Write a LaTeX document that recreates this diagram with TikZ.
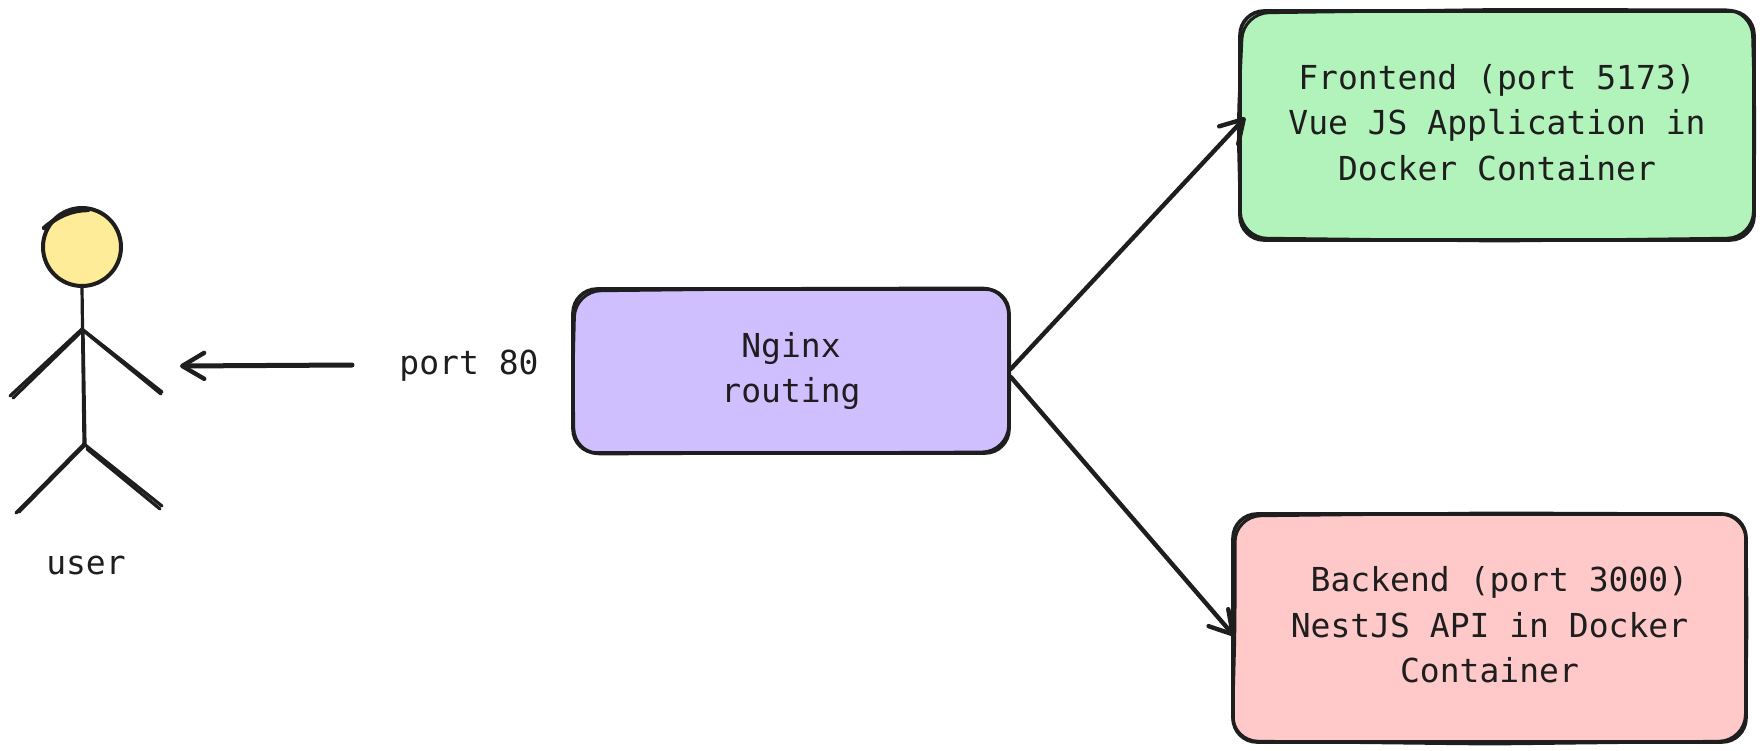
\documentclass[tikz,border=0pt]{standalone}
\usepackage{fontspec}
\setmonofont{DejaVu Sans Mono}
\usetikzlibrary{arrows.meta}
\definecolor{ink}{HTML}{1E1E1E}
\definecolor{fgreen}{HTML}{B2F2BB}
\definecolor{bred}{HTML}{FFC9C9}
\definecolor{npurple}{HTML}{D0BFFF}
\definecolor{uyellow}{HTML}{FFEC99}
\tikzset{
  x=1pt,y=-1pt,
  boxnode/.style={draw=ink,line width=3.6pt,rounded corners=24pt,inner sep=0pt,
    text=ink,font=\ttfamily\fontsize{33}{45.5}\selectfont},
  label/.style={text=ink,inner sep=0pt,font=\ttfamily\fontsize{33}{39}\selectfont},
  ink line/.style={draw=ink,line width=3.2pt,line cap=round},
  overstroke/.style={draw=ink,line width=3pt,line cap=round,rounded corners=26pt},
  connector/.style={draw=ink,line width=4.4pt,line cap=round,line join=round,
    -{Straight Barb[length=22pt,width=26pt,line width=4.4pt,round]}},
}
\begin{document}
\begin{tikzpicture}
\useasboundingbox (0,0) rectangle (1763,751);
\fill[white] (0,0) rectangle (1763,751);
% boxes
\node[boxnode,fill=fgreen,minimum width=514pt,minimum height=229pt] (frontend) at (1497,125.5)
  {\begin{tabular}{@{}c@{}}Frontend (port 5173)\\Vue JS Application in\\Docker Container\end{tabular}};
\node[boxnode,fill=bred,minimum width=513pt,minimum height=228pt] (backend) at (1489.5,628)
  {\begin{tabular}{@{}c@{}}~Backend (port 3000)\\NestJS API in Docker\\Container\end{tabular}};
\node[boxnode,fill=npurple,minimum width=436pt,minimum height=164pt] (nginx) at (791,371)
  {\begin{tabular}{@{}c@{}}Nginx\\routing\end{tabular}};
% second sketch strokes
\draw[overstroke] (1243,13) -- (1500,9.5) -- (1752,10) -- (1755,125) -- (1753,238) -- (1500,241) -- (1241,238) -- (1238,125) -- cycle;
\draw[overstroke] (1235,516) -- (1490,513) -- (1746,514) -- (1747,628) -- (1745,741) -- (1490,744) -- (1232,741) -- (1235,628) -- cycle;
\draw[overstroke] (575,291) -- (790,288.5) -- (1008,288) -- (1010,371) -- (1008,452) -- (790,453) -- (574,454) -- (573,371) -- cycle;
% labels
\node[label] (port) at (469,366) {port 80};
\node[label] (user) at (86,565) {user};
% figure
\node[circle,draw=ink,fill=uyellow,line width=4pt,minimum size=78pt,inner sep=0pt] (head) at (82,247) {};
\draw[ink line,line width=4.4pt] (44,228) .. controls (58,216) and (72,210) .. (88,210);
\draw[ink line,line width=2pt] (43,240) .. controls (41,255) and (46,270) .. (58,278);
\coordinate (neck) at (82,287);
\coordinate (shoulder) at (82,329);
\coordinate (hip) at (84,444);
\coordinate (handl) at (10,396);
\coordinate (handr) at (162,392);
\coordinate (footl) at (16,513);
\coordinate (footr) at (162,506);
\draw[ink line] (neck) -- (hip);
\draw[ink line] (83,330) -- (85,444);
\draw[ink line] (shoulder) -- (handl);
\draw[ink line] (81,332) -- (13,398);
\draw[ink line] (shoulder) -- (handr);
\draw[ink line] (85,332) -- (161,394);
\draw[ink line] (hip) -- (footl);
\draw[ink line] (84,446) -- (19,512);
\draw[ink line] (hip) -- (footr);
\draw[ink line] (87,449) -- (160,509);
% connectors
\coordinate (portstart) at (352,365);
\coordinate (portend) at (180,366);
\draw[connector,line width=5pt] (portstart) -- (portend);
\draw[connector] ([yshift=2pt]nginx.east) -- ([xshift=7pt,yshift=8pt]frontend.west);
\draw[connector] ([yshift=-6pt]nginx.east) -- ([xshift=3pt,yshift=-8pt]backend.west);
\end{tikzpicture}
\end{document}
